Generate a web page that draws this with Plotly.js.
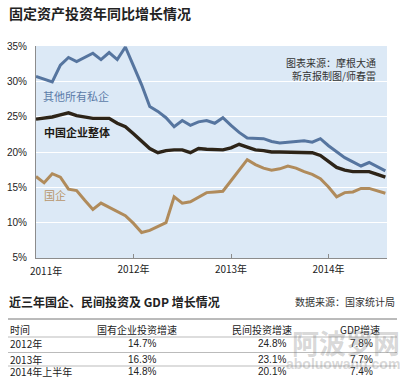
<!DOCTYPE html>
<html><head><meta charset="utf-8">
<script src="https://cdn.plot.ly/plotly-3.0.1.min.js"></script>
<style>html,body{margin:0;padding:0;background:#fff}#c{width:400px;height:378px}</style>
</head><body><div id="c"></div>
<script>
// months since Jan 2011
const months = Array.from({length:44},(_,i)=>i);
const privateSeries = [30.8,30.4,30.0,32.4,33.5,32.9,33.5,34.1,33.2,34.2,33.2,35.0,
  32.3,29.6,26.5,25.8,24.9,23.6,24.5,23.8,24.3,24.5,24.1,24.9,
  23.8,22.8,22.0,22.0,21.9,21.5,21.3,21.4,21.5,21.6,21.4,21.9,
  20.9,20.0,19.2,18.6,18.0,18.5,17.9,17.3];
const totalSeries = [24.7,24.85,25.0,25.3,25.6,25.2,25.0,24.8,24.8,24.8,24.1,23.6,
  22.6,21.6,20.5,19.9,20.2,20.3,20.3,19.9,20.5,20.4,20.3,20.3,
  20.6,21.1,20.7,20.3,20.2,20.0,20.0,20.0,20.0,20.0,19.9,19.5,
  18.7,17.8,17.4,17.2,17.2,17.2,16.8,16.4];
const soeSeries = [16.5,15.6,16.9,16.4,14.7,14.5,13.1,11.8,12.7,12.1,11.6,10.9,
  9.8,8.5,8.8,9.3,9.9,13.6,12.7,12.9,13.5,14.2,14.3,14.4,
  15.9,17.4,18.9,18.2,17.7,17.4,17.6,18.0,17.7,17.2,16.8,16.2,
  15.0,13.6,14.2,14.3,14.8,14.8,14.5,14.1];
const yTickVals = [5,10,15,20,25,30,35];
const yTickText = ['5%','10%','15%','20%','25%','30%','35%'];
const xTickVals = [0,12,24,36];
const xTickText = ['2011年','2012年','2013年','2014年'];
const seriesNames = ['其他所有私企','中国企业整体','国企'];

// table
const tableHeader = ['时间','国有企业投资增速','民间投资增速','GDP增速'];
const tablePeriods = ['2012年','2013年','2014年上半年'];
const soeGrowth = ['14.7%','16.3%','14.8%'];
const privateGrowth = ['24.8%','23.1%','20.1%'];
const gdpGrowth = ['7.8%','7.7%','7.4%'];

const F = '"Liberation Sans", "Noto Sans CJK SC", sans-serif';
const FC = '"Noto Sans CJK SC", "Liberation Sans", sans-serif';
const L=36, R=13, T=46, B=120, W=400, H=378;
const pw=W-L-R, ph=H-T-B;
const px = x => (x-L)/pw;
const py = y => (H-B-y)/ph;

const traces = [
  {x:months,y:privateSeries,mode:'lines',line:{color:'#56759f',width:3},name:seriesNames[0]},
  {x:months,y:totalSeries,mode:'lines',line:{color:'#2d2418',width:3.4},name:seriesNames[1]},
  {x:months,y:soeSeries,mode:'lines',line:{color:'#b08b5b',width:3},name:seriesNames[2]}
];

const ann = [];
function A(text,x,y,opt){ann.push(Object.assign({text:text,xref:'paper',yref:'paper',x:px(x),y:py(y),showarrow:false,xanchor:'left',yanchor:'middle',font:{family:FC,size:10,color:'#222'}},opt||{}));}

A('<b>固定资产投资年同比增长情况</b>',7,13,{font:{family:FC,size:14,color:'#222'}});
A('图表来源：摩根大通',378,62,{xanchor:'right',font:{family:FC,size:10,color:'#333'}});
A('新京报制图/师春雷',378,75,{xanchor:'right',font:{family:FC,size:10,color:'#333'}});
A(seriesNames[0],41,96,{font:{family:FC,size:11,color:'#5b7ba8'}});
A('<b>'+seriesNames[1]+'</b>',42,132,{font:{family:FC,size:11,color:'#1e1a14'}});
A(seriesNames[2],42,195,{font:{family:FC,size:11,color:'#b8966a'}});
// 2011 tick label
ann.push({text:xTickText[0],xref:'x',yref:'paper',x:0,y:py(270),xanchor:'left',yanchor:'middle',xshift:-8,showarrow:false,font:{family:FC,size:10,color:'#222'}});

// bottom section
A('<b>近三年国企、民间投资及 GDP 增长情况</b>',7,301,{font:{family:FC,size:12,color:'#222'}});
A('数据来源：国家统计局',397,301,{xanchor:'right',font:{family:FC,size:10,color:'#333'}});
const colX = [8,137,262,360];
const valX = [8,142,272,361];
A(tableHeader[0],colX[0],329);
for(let c=1;c<4;c++) A(tableHeader[c],colX[c],329,{xanchor:'center'});
const rowY=[343,359,371.5];
for(let r=0;r<3;r++){
  A(tablePeriods[r],valX[0],rowY[r]);
  A(soeGrowth[r],valX[1],rowY[r],{xanchor:'center',font:{family:F,size:10,color:'#222'}});
  A(privateGrowth[r],valX[2],rowY[r],{xanchor:'center',font:{family:F,size:10,color:'#222'}});
  A(gdpGrowth[r],valX[3],rowY[r],{xanchor:'center',font:{family:F,size:10,color:'#222'}});
}
// watermark
A('<b>阿波罗网</b>',346,342,{xanchor:'center',font:{family:FC,size:27,color:'rgba(120,120,120,0.3)'}});
A('<b>aboluowang.com</b>',343,364,{xanchor:'center',font:{family:F,size:14,color:'rgba(120,120,120,0.3)'}});

const shapes = [
  {type:'line',xref:'paper',yref:'paper',x0:px(8),x1:px(397),y0:py(319),y1:py(319),line:{color:'#777',width:1}},
  {type:'line',xref:'paper',yref:'paper',x0:px(8),x1:px(397),y0:py(337),y1:py(337),line:{color:'#aaa',width:0.8}},
  {type:'line',xref:'paper',yref:'paper',x0:px(8),x1:px(397),y0:py(352.5),y1:py(352.5),line:{color:'#aaa',width:0.8}},
  {type:'line',xref:'paper',yref:'paper',x0:px(8),x1:px(397),y0:py(366),y1:py(366),line:{color:'#aaa',width:0.8}}
];

const layout = {
  width:W,height:H,margin:{l:L,r:R,t:T,b:B,pad:0},
  paper_bgcolor:'#fff',plot_bgcolor:'#dce9f6',showlegend:false,
  font:{family:FC,size:10,color:'#222'},
  xaxis:{range:[0,43.2],tickvals:xTickVals.slice(1),ticktext:xTickText.slice(1),showgrid:false,zeroline:false,
    showline:true,linecolor:'#8c8c8c',linewidth:1,ticks:'inside',ticklen:4,tickcolor:'#8c8c8c',ticklabelstandoff:2,
    tickfont:{family:FC,size:10,color:'#222'},fixedrange:true},
  yaxis:{range:[4.86,35.14],tickvals:yTickVals,ticktext:yTickText,showgrid:true,gridcolor:'#ffffff',gridwidth:1,
    zeroline:false,showline:true,linecolor:'#8c8c8c',linewidth:1,ticks:'',ticklabelstandoff:6,
    tickfont:{family:F,size:10,color:'#222'},fixedrange:true},
  annotations:ann,shapes:shapes
};
Plotly.newPlot('c',traces,layout,{staticPlot:true,displayModeBar:false});
</script></body></html>
